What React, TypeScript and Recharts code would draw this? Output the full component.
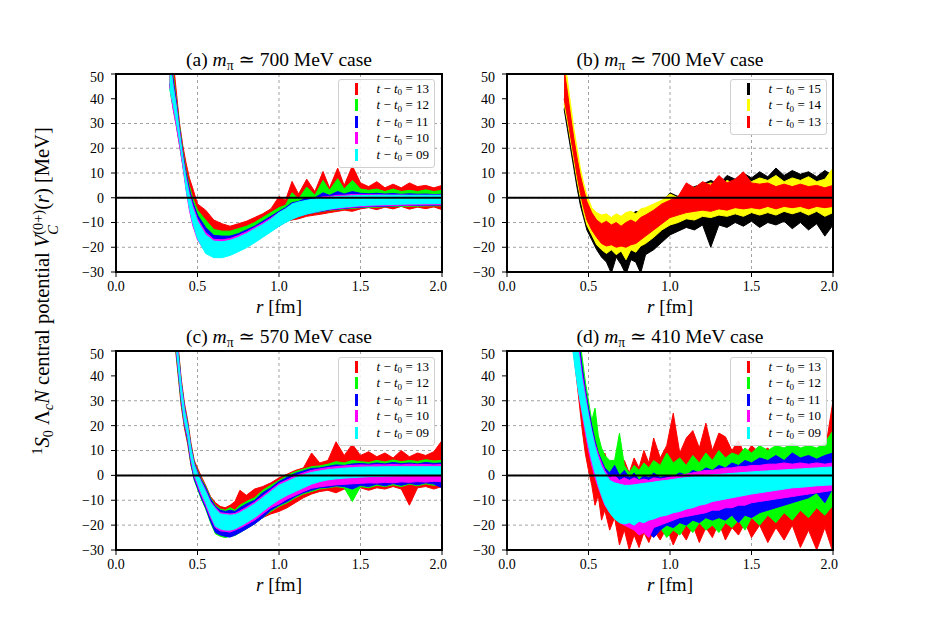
import React from 'react';
import { Area, CartesianGrid, ComposedChart, ReferenceArea, ReferenceLine, XAxis, YAxis } from 'recharts';

// ---- r grids [fm], one per panel ----
const rA = [0.33, 0.35, 0.37, 0.39, 0.41, 0.43, 0.45, 0.47, 0.5, 0.55, 0.6, 0.65, 0.7, 0.75, 0.8, 0.85, 0.9, 0.95, 1.0, 1.04, 1.08, 1.12, 1.17, 1.22, 1.27, 1.31, 1.36, 1.4, 1.45, 1.5, 1.55, 1.6, 1.65, 1.7, 1.75, 1.8, 1.85, 1.9, 1.95, 2.0];
const rB = [0.35, 0.37, 0.39, 0.41, 0.43, 0.45, 0.47, 0.49, 0.52, 0.55, 0.58, 0.61, 0.64, 0.67, 0.7, 0.73, 0.76, 0.79, 0.82, 0.85, 0.9, 0.95, 1.0, 1.05, 1.1, 1.15, 1.2, 1.25, 1.3, 1.35, 1.4, 1.45, 1.5, 1.55, 1.6, 1.65, 1.7, 1.75, 1.8, 1.85, 1.9, 1.95, 2.0];
const rC = [0.36, 0.38, 0.4, 0.42, 0.44, 0.46, 0.48, 0.5, 0.52, 0.55, 0.58, 0.61, 0.64, 0.67, 0.7, 0.73, 0.76, 0.8, 0.85, 0.9, 0.95, 1.0, 1.05, 1.1, 1.15, 1.2, 1.25, 1.3, 1.35, 1.4, 1.45, 1.5, 1.55, 1.6, 1.65, 1.7, 1.75, 1.8, 1.85, 1.9, 1.95, 2.0];
const rD = [0.4, 0.42, 0.44, 0.46, 0.48, 0.5, 0.52, 0.54, 0.56, 0.58, 0.6, 0.63, 0.66, 0.69, 0.72, 0.75, 0.78, 0.81, 0.84, 0.87, 0.9, 0.94, 0.98, 1.02, 1.06, 1.1, 1.14, 1.18, 1.22, 1.26, 1.3, 1.34, 1.38, 1.42, 1.46, 1.5, 1.55, 1.6, 1.65, 1.7, 1.75, 1.8, 1.85, 1.9, 1.95, 2.0];

// ---- (a) m_pi ~ 700 MeV, error band lower / upper edge [MeV] ----
const A13_HI = [75, 56, 43, 30, 21, 14, 8, 4, -2.5, -5, -9, -10.5, -11.5, -10.5, -9.5, -8, -6.5, -4.5, 0.5, -1, 6.6, 1.5, 7.5, 2.5, 10.6, 4, 12, 5, 12.9, 6, 4.5, 6.5, 4, 5.5, 4, 6, 4.5, 5, 4, 5];
const A13_LO = [45, 38, 30, 22, 14, 6, 0, -5, -11, -17, -21, -22, -21.5, -20, -18.5, -16.5, -15, -12.5, -10, -9.5, -9, -8.5, -7.5, -7, -6.5, -6, -5.5, -5, -5.5, -4.5, -4, -4.8, -3.8, -4.5, -3.5, -4.6, -3.8, -4.4, -3.7, -4.8];
const A12_HI = [62, 50, 40, 29, 19, 11, 5, 0, -5, -9, -12.8, -13.5, -13.5, -12.5, -11.5, -10, -8, -6, -4, -3, 2, -0.5, 4.3, 1, 7, 3, 7.7, 3.5, 7, 3.5, 3, 3.5, 2.5, 3.5, 2.5, 3, 2.5, 3.2, 2.5, 3];
const A12_LO = [44, 36, 29, 21, 13, 5, -1, -6, -12, -18, -21.5, -22.5, -22, -20.5, -19, -17, -15.5, -13, -11, -9.5, -8.5, -7.5, -6.5, -6, -5.5, -5, -4.8, -4.5, -4.3, -4, -3.8, -3.8, -3.6, -3.5, -3.5, -3.4, -3.4, -3.3, -3.3, -3.2];
const A11_HI = [58, 48, 39, 28, 18, 10, 3.5, -1.5, -7, -12, -15.2, -15.5, -15.5, -14.5, -13, -11.5, -9.5, -7.5, -5.5, -4, -2, -1.5, 0, 0, 2, 1, 2.5, 1.5, 2.5, 1.8, 1.6, 1.8, 1.5, 1.7, 1.4, 1.6, 1.4, 1.5, 1.3, 1.4];
const A11_LO = [46, 37, 30, 22, 13.5, 4.5, -3, -9, -15, -20.5, -23, -23.2, -22.5, -21, -19.5, -17.5, -15.5, -13.5, -11.5, -9.8, -8.5, -7.5, -6.6, -5.9, -5.4, -4.9, -4.6, -4.3, -4, -3.8, -3.6, -3.5, -3.4, -3.3, -3.2, -3.1, -3.1, -3, -3, -2.9];
const A10_HI = [56, 46, 37.5, 27, 17, 8.5, 2, -3, -8.5, -14, -16.8, -17, -16.5, -15.3, -13.8, -12, -10.2, -8.2, -6, -4.5, -3, -2, -1.2, -0.5, 0.4, 0.5, 1, 1, 1.3, 1.2, 1.2, 1.2, 1.1, 1.1, 1.1, 1, 1, 1, 1, 1];
const A10_LO = [45, 36, 29, 21, 12.5, 3, -5, -11, -17, -22, -23.6, -23.5, -22.8, -21.2, -19.7, -17.8, -15.8, -13.5, -11.4, -9.8, -8.5, -7.4, -6.5, -5.8, -5.2, -4.7, -4.4, -4.1, -3.8, -3.6, -3.4, -3.3, -3.2, -3.1, -3, -3, -2.9, -2.9, -2.8, -2.8];
const A09_HI = [55, 45, 36.5, 26, 16, 7.5, 1, -4, -9.5, -15, -17.5, -17.8, -17.2, -16, -14.5, -12.6, -10.8, -8.7, -6, -4.5, -2.5, -1.7, -1, -0.5, 0, 0.2, 0.5, 0.6, 0.8, 0.9, 0.9, 1, 1, 1, 1, 1, 1, 1, 1, 1];
const A09_LO = [44, 38, 31, 23, 14, 3.5, -4, -10, -16.5, -22.5, -24.2, -24.2, -23.3, -21.8, -20.2, -18.2, -16, -13.8, -11.5, -10, -8.7, -7.6, -6.6, -5.8, -5.1, -4.6, -4.1, -3.8, -3.5, -3.2, -3, -2.9, -2.8, -2.7, -2.6, -2.5, -2.5, -2.4, -2.4, -2.3];

// ---- (b) m_pi ~ 700 MeV, later times ----
const B15_HI = [54, 44, 34, 25, 17, 9, 3, -2, -6, -8, -9, -8.5, -10, -8, -9, -7.5, -7, -5.5, -6, -5, -3.5, -2, 2, 0.5, 3, 4.5, 5.5, 7, 5.5, 9, 7.5, 10, 8, 10.5, 8.5, 12, 9, 11, 9.5, 10.5, 8.5, 11, 9];
const B15_LO = [36, 28, 20, 12, 4, -3, -8, -13, -17, -21, -24, -26, -30.5, -24, -27, -31, -25, -26, -30.5, -23, -21, -18, -15, -13.5, -12, -13, -11, -20, -11, -12, -10, -11.5, -9.5, -12, -10, -11, -9.5, -12.5, -10, -13, -10.5, -15.5, -11];
const B14_HI = [58, 48, 38, 28, 20, 12, 6, 1, -4, -6, -7, -6.5, -8, -6.5, -7.5, -6, -5.5, -6.5, -4.5, -4, -2.5, -1, 1.5, 0, 2.5, 4, 5, 6, 4.5, 7, 5.5, 8, 6.5, 8, 7, 9, 6.5, 8, 7, 8.5, 6.5, 7.5, 12];
const B14_LO = [38, 31, 23, 15, 7, 0, -6, -11, -15, -19, -21, -22.5, -21, -23, -21.5, -25, -21, -22, -19.5, -18.5, -16, -13, -11, -10, -8.5, -9, -7.5, -8, -7, -7.5, -6.5, -7.5, -6, -7, -6, -7, -5.5, -6.5, -5.5, -7, -5.5, -7.5, -6];
const B13_HI = [52, 43, 33, 24, 16, 9, 3.5, -1.5, -6, -9, -10.5, -9.5, -11, -10, -11.5, -10, -9, -10, -8, -7, -5, -2.5, -1, 0.5, 6, 4, 6.5, 5, 9, 6, 7.5, 10.5, 6, 5.5, 6, 4.5, 5.5, 4.5, 5.5, 4.5, 5, 4, 5];
const B13_LO = [40, 33, 25, 17, 9, 2, -4, -9, -13, -16, -18.5, -19.5, -19, -20, -19.5, -20, -19, -18.5, -17, -15.5, -13, -10.5, -8, -7, -6, -5.5, -5, -5.5, -4.5, -5, -4, -4.5, -4, -4.5, -3.5, -4.5, -3.5, -4, -3.5, -4.5, -3.5, -4, -3.5];

// ---- (c) m_pi ~ 570 MeV ----
const C13_HI = [68, 53, 39, 29, 22, 13, 6, 3, 0, -4, -8.5, -11, -12.5, -13, -12, -10.5, -6, -8, -5.5, -4.5, -3, -1, 0.5, 2, 3, 9, 5, 6, 13.5, 8, 12.5, 8, 9.5, 7.5, 9, 7, 10, 7.5, 9, 8, 9.5, 14];
const C13_LO = [54, 41, 28, 19, 12.5, 4, -1, -4.5, -8, -12, -17, -21, -22, -22.5, -22.5, -22, -21.5, -20.5, -19, -17, -15.5, -14.5, -13, -11, -9, -7.5, -6.5, -6, -7, -5.5, -6.5, -5, -6, -5, -5.5, -4.5, -5.5, -12, -5, -4.5, -5.5, -4.5];
const C12_HI = [67, 52, 38, 28, 21, 12, 5.5, 2, -1, -4.5, -9, -12, -13.5, -14, -13, -14, -12, -10.5, -9, -6, -4, -2, 0, 1.5, 2.5, 3.5, 3.8, 4.5, 5.5, 5, 6, 5.5, 5.2, 6, 5.4, 6.2, 5.5, 6, 5.6, 6.3, 5.8, 6];
const C12_LO = [55, 42, 29, 20, 13.5, 4.5, -2, -5.5, -9, -13.5, -19, -23.5, -24.5, -25, -24.5, -24.2, -23, -21.5, -19.5, -17, -14.5, -12.5, -11, -9, -7.5, -6.5, -5.5, -5, -4.5, -5, -10.5, -4.5, -5, -4, -4.5, -3.8, -4.5, -3.5, -4.2, -3.4, -4, -3.5];
const C11_HI = [66, 51, 37.5, 27.5, 20.5, 11.5, 5, 1.5, -1.5, -5, -9.5, -12.5, -14, -14.5, -14, -14.5, -13, -11.5, -10, -7, -5, -2.5, -0.8, 0.8, 1.8, 2.8, 3, 3.6, 4.2, 4, 4.6, 4.8, 4.5, 5, 4.6, 5.2, 4.7, 5, 4.6, 5.2, 4.8, 5];
const C11_LO = [56, 43, 30, 20.5, 14, 5, -1.5, -5, -8.5, -13, -18.5, -23, -24, -24.5, -24.8, -24, -23, -21.5, -19.5, -17, -14, -12, -10.5, -8.5, -7, -6, -5, -4.8, -4.2, -4.5, -5.5, -4, -4.5, -3.5, -4.2, -3.3, -4, -3.2, -3.8, -3, -3.5, -5];
const C10_HI = [65, 50, 37, 27, 20, 11, 4.5, 1, -2, -6, -10.5, -13, -15, -15.3, -15.5, -15.3, -14.3, -12.8, -10.8, -8.3, -5.8, -3.3, -1.8, -0.2, 1, 2, 2.6, 3.1, 3.5, 3.8, 4, 4.2, 4.1, 4.3, 4.2, 4.4, 4.2, 4.5, 4.3, 4.4, 4.2, 4.4];
const C10_LO = [57, 44, 31, 21, 15, 6, -0.5, -4, -7.5, -12, -17, -21, -22.3, -22.5, -22.8, -22, -21.2, -19.8, -18, -15.5, -13, -11.5, -9.5, -8, -6.5, -5.2, -4.6, -4.2, -3.8, -3.6, -3.4, -3.2, -3, -3.1, -2.8, -3, -2.6, -2.8, -2.5, -2.7, -2.4, -2.5];
const C09_HI = [64, 49, 36, 26, 19.5, 10.5, 4, 0.5, -2.5, -6.5, -11, -13.5, -15.5, -15.8, -16, -15.8, -15, -13.5, -11.5, -9, -6.5, -4, -2.5, -1, 0.3, 1.2, 1.8, 2.3, 2.6, 2.9, 3.1, 3.3, 3.4, 3.4, 3.5, 3.5, 3.5, 3.5, 3.5, 3.5, 3.5, 3.5];
const C09_LO = [58, 45, 32, 22, 16, 7, 0.5, -3, -6.5, -11, -16, -20.5, -21.5, -22, -22, -21.5, -20.5, -19, -17, -14.5, -12, -9.8, -8, -6.5, -5, -3.5, -2.5, -1.8, -1.4, -1.1, -0.9, -0.7, -0.5, -0.4, -0.3, -0.2, -0.1, 0, 0, 0, 0, 0];

// ---- (d) m_pi ~ 410 MeV ----
const D13_HI = [80, 62, 52, 42, 30, 20, 13, 8, 5, 3, 9, 2, 5, -1, 6, 1, 7, 3, 10, 5, 15, 7, 12, 25, 9, 15, 18, 11, 21, 10, 17, 15.5, 10, 14, 8, 12, 9, 11, 7, 10, 6, 9, 7, 8, 9, 30];
const D13_LO = [55, 43, 31, 19, 9, 2, -4, -12, -8, -18, -14, -22, -17, -28, -22, -30, -24, -29, -23, -27, -22, -26, -21, -28, -22, -26, -20, -27, -21, -25, -19, -26, -21, -24, -19, -25, -20, -27, -21, -26, -20, -29, -22, -30, -21, -31];
const D12_HI = [85, 70, 58, 48, 38, 30, 22, 27, 16, 11, 8, 6, 6, 17, 4, 1, 4, 2, 5, 3, 6, 4, 9, 5, 7, 4, 8, 5, 9, 6, 10, 7, 9, 8, 11, 9, 12, 10, 12, 11, 13, 11, 12, 11, 13, 18];
const D12_LO = [58, 47, 37, 29, 21, 14, 8, 3, -2, -6, -9, -13, -15, -17, -19, -18, -21, -19, -23, -20, -24, -21, -25, -22, -24, -20, -23, -19, -22, -20, -23, -19, -21, -18, -22, -17, -20, -16, -19, -15, -18, -14, -17, -13, -16, -12];
const D11_HI = [80, 66, 54, 44, 35, 27, 20, 14, 9, 6, 3, 1, 4, 0, 2, -1, 1, -2, 0, -1, 1, -1, 0, -0.5, 1, 0, 2, 1, 3, 2, 4, 3, 5, 4, 6, 5, 7, 6, 8, 6, 9, 7, 8, 6.5, 8, 9];
const D11_LO = [56, 45, 35, 27, 19, 12, 6, 1, -3, -7, -10, -13, -15, -17, -18, -19, -20, -21, -22, -23, -25, -22, -20, -21, -19, -20, -18, -19, -17, -18, -17, -18, -16, -19, -16, -17, -15, -14, -13, -12, -11, -10, -9, -7, -11, -5];
const D10_HI = [76, 63, 51, 41, 33, 25, 18, 12.5, 8.5, 5, 2, -1, 0, -2, -1, -2, -1, -2, -1.5, -2, -1, -1.5, -1, -0.5, 0, 0.5, 1, 1.5, 2, 2, 2.5, 3, 3, 3.5, 3.5, 4, 4, 4.5, 4.5, 5, 4.5, 5, 4.5, 5, 4.5, 5];
const D10_LO = [54, 43, 33, 25, 17, 10, 4, -1, -5, -8.5, -12, -15, -17, -19, -20, -21, -22, -24, -23, -25, -21, -20, -19, -18, -17, -16.5, -16, -15.5, -15, -14, -14, -13, -13, -12, -12, -11, -10.5, -10, -9.5, -9, -8.5, -8, -7.5, -7, -6.5, -6];
const D09_HI = [74, 61, 49, 39, 31, 24, 17.5, 11.5, 7, 3.5, 1, -2, -3, -3.5, -4, -4, -3.8, -3.5, -3.2, -3, -2.7, -2.3, -2, -1.6, -1.2, -0.9, -0.6, -0.3, 0, 0.2, 0.4, 0.6, 0.8, 1, 1.2, 1.4, 1.6, 1.8, 2, 2.2, 2.4, 2.6, 2.8, 3, 3.2, 3.4];
const D09_LO = [52, 42, 33, 26, 19, 12, 6, 1, -4, -8, -11.5, -15, -17.5, -19, -19.5, -19, -20, -18.5, -19, -18, -17.5, -16.5, -16, -15, -14.5, -13.5, -13, -12, -11.5, -10.5, -10, -9.5, -9, -8.5, -8, -7.5, -7, -6.5, -6, -5.5, -5, -4.8, -4.5, -4.2, -4, -3.8];

const X_TICKS = [0, 0.5, 1, 1.5, 2];
const Y_TICKS = [-30, -20, -10, 0, 10, 20, 30, 40, 50];

const COLOR: Record<string, string> = {
  '15': '#000000',
  '14': '#ffff00',
  '13': '#ff0000',
  '12': '#00ff00',
  '11': '#0000ff',
  '10': '#ff00ff',
  '09': '#00ffff',
};

const SERIF = '"Liberation Serif", "DejaVu Serif", serif';

type Band = { t: string; lo: number[]; hi: number[] };

// one row per r, each band stored as [low, high] so Area draws a range
const buildRows = (r: number[], bands: Band[]) =>
  r.map((x, i) => {
    const row: Record<string, number | number[]> = { r: x };
    bands.forEach((b) => {
      row['t' + b.t] = [b.lo[i], b.hi[i]];
    });
    return row;
  });

const fmtY = (v: number) => (v < 0 ? `\u2212${-v}` : `${v}`);

const TICK = { fill: '#000', fontSize: 14, fontFamily: SERIF };

const PAD_L = 45;
const PAD_T = 5;
const PAD_R = 5;
const PAD_B = 25;

const Sub = ({ children }: { children: React.ReactNode }) => (
  <span style={{ fontSize: '0.7em', position: 'relative', top: '0.3em', lineHeight: 0 }}>{children}</span>
);

const Panel = ({ x, y, w, h, r, bands }: { x: number; y: number; w: number; h: number; r: number[]; bands: Band[] }) => {
  const data = buildRows(r, bands);
  return (
    <div style={{ position: 'absolute', left: x - PAD_L, top: y - PAD_T }}>
      <ComposedChart
        width={w + PAD_L + PAD_R}
        height={h + PAD_T + PAD_B}
        data={data}
        margin={{ top: PAD_T, right: PAD_R, left: 0, bottom: 0 }}
      >
        <CartesianGrid stroke="#8a8a8a" strokeDasharray="3 3" strokeWidth={0.8} />
        <XAxis
          type="number"
          dataKey="r"
          domain={[0, 2]}
          ticks={X_TICKS}
          allowDataOverflow
          height={PAD_B}
          tickFormatter={(v: number) => v.toFixed(1)}
          tick={TICK}
          tickLine={{ stroke: '#000' }}
          tickSize={5}
          tickMargin={4}
          axisLine={false}
        />
        <YAxis
          type="number"
          domain={[-30, 50]}
          ticks={Y_TICKS}
          allowDataOverflow
          width={PAD_L}
          tickFormatter={fmtY}
          tick={TICK}
          tickLine={{ stroke: '#000' }}
          tickSize={5}
          tickMargin={7}
          axisLine={false}
        />
        {bands.map((b) => (
          <Area
            key={b.t}
            dataKey={'t' + b.t}
            type="linear"
            fill={COLOR[b.t]}
            fillOpacity={1}
            stroke={COLOR[b.t]}
            strokeWidth={1}
            dot={false}
            activeDot={false}
            isAnimationActive={false}
          />
        ))}
        <ReferenceLine y={0} stroke="#000" strokeWidth={2} />
        <ReferenceArea x1={0} x2={2} y1={-30} y2={50} fill="none" fillOpacity={0} stroke="#000" strokeWidth={2} ifOverflow="visible" />
      </ComposedChart>
    </div>
  );
};

const LegendBox = ({ left, top, bands }: { left: number; top: number; bands: Band[] }) => (
  <div
    style={{
      position: 'absolute',
      left,
      top,
      width: 97,
      paddingTop: 0.5,
      paddingBottom: 4,
      boxSizing: 'border-box',
      border: '1px solid #d0d0d0',
      borderRadius: 3,
      background: 'rgba(255,255,255,0.88)',
      fontSize: 13,
    }}
  >
    {bands.map((b) => (
      <div key={b.t} style={{ height: 16.5, display: 'flex', alignItems: 'center' }}>
        <span style={{ width: 3, height: 12, background: COLOR[b.t], marginLeft: 15.5, marginRight: 19 }} />
        <span style={{ whiteSpace: 'nowrap' }}>
          <i>t</i> − <i>t</i>
          <Sub>0</Sub> = {b.t}
        </span>
      </div>
    ))}
  </div>
);

const Label = ({ x, y, size, children }: { x: number; y: number; size: number; children: React.ReactNode }) => (
  <div
    style={{
      position: 'absolute',
      left: x,
      top: y,
      transform: 'translate(-50%, -50%)',
      whiteSpace: 'nowrap',
      fontSize: size,
      lineHeight: 1,
    }}
  >
    {children}
  </div>
);

const Title = ({ x, y, tag, mass }: { x: number; y: number; tag: string; mass: string }) => (
  <Label x={x} y={y} size={19.5}>
    ({tag}) <i>m</i>
    <Sub>π</Sub> ≃ {mass} MeV case
  </Label>
);

const bandsA: Band[] = [
  { t: '13', lo: A13_LO, hi: A13_HI },
  { t: '12', lo: A12_LO, hi: A12_HI },
  { t: '11', lo: A11_LO, hi: A11_HI },
  { t: '10', lo: A10_LO, hi: A10_HI },
  { t: '09', lo: A09_LO, hi: A09_HI },
];
const bandsB: Band[] = [
  { t: '15', lo: B15_LO, hi: B15_HI },
  { t: '14', lo: B14_LO, hi: B14_HI },
  { t: '13', lo: B13_LO, hi: B13_HI },
];
const bandsC: Band[] = [
  { t: '13', lo: C13_LO, hi: C13_HI },
  { t: '12', lo: C12_LO, hi: C12_HI },
  { t: '11', lo: C11_LO, hi: C11_HI },
  { t: '10', lo: C10_LO, hi: C10_HI },
  { t: '09', lo: C09_LO, hi: C09_HI },
];
const bandsD: Band[] = [
  { t: '13', lo: D13_LO, hi: D13_HI },
  { t: '12', lo: D12_LO, hi: D12_HI },
  { t: '11', lo: D11_LO, hi: D11_HI },
  { t: '10', lo: D10_LO, hi: D10_HI },
  { t: '09', lo: D09_LO, hi: D09_HI },
];

export default function App() {
  return (
    <div
      style={{
        position: 'absolute',
        left: 0,
        top: 0,
        width: 926,
        height: 618,
        background: '#fff',
        fontFamily: SERIF,
        color: '#000',
        overflow: 'hidden',
      }}
    >
      <Panel x={116} y={74} w={326} h={198} r={rA} bands={bandsA} />
      <Panel x={507} y={74} w={326} h={198} r={rB} bands={bandsB} />
      <Panel x={116} y={351} w={326} h={199} r={rC} bands={bandsC} />
      <Panel x={507} y={351} w={326} h={199} r={rD} bands={bandsD} />

      <LegendBox left={338} top={79} bands={bandsA} />
      <LegendBox left={730} top={79} bands={bandsB} />
      <LegendBox left={338} top={357} bands={bandsC} />
      <LegendBox left={730} top={357} bands={bandsD} />

      <Title x={279} y={60} tag="a" mass="700" />
      <Title x={670} y={60} tag="b" mass="700" />
      <Title x={279} y={337} tag="c" mass="570" />
      <Title x={670} y={337} tag="d" mass="410" />

      <Label x={279} y={306} size={19}>
        <i>r</i> [fm]
      </Label>
      <Label x={670} y={306} size={19}>
        <i>r</i> [fm]
      </Label>
      <Label x={279} y={584} size={19}>
        <i>r</i> [fm]
      </Label>
      <Label x={670} y={584} size={19}>
        <i>r</i> [fm]
      </Label>

      <div
        style={{
          position: 'absolute',
          left: 46,
          top: 291,
          transform: 'translate(-50%, -50%) rotate(-90deg)',
          whiteSpace: 'nowrap',
          fontSize: 20.5,
          lineHeight: 1,
        }}
      >
        <span style={{ fontSize: '0.7em', position: 'relative', top: '-0.5em' }}>1</span>
        <i>S</i>
        <Sub>0</Sub> Λ<Sub><i>c</i></Sub>
        <i>N</i> central potential <i>V</i>
        <span
          style={{
            display: 'inline-flex',
            flexDirection: 'column',
            fontSize: '0.7em',
            lineHeight: 1.05,
            verticalAlign: '0.42em',
          }}
        >
          <span>(0+)</span>
          <span>
            <i>C</i>
          </span>
        </span>
        (<i>r</i>) [MeV]
      </div>
    </div>
  );
}
